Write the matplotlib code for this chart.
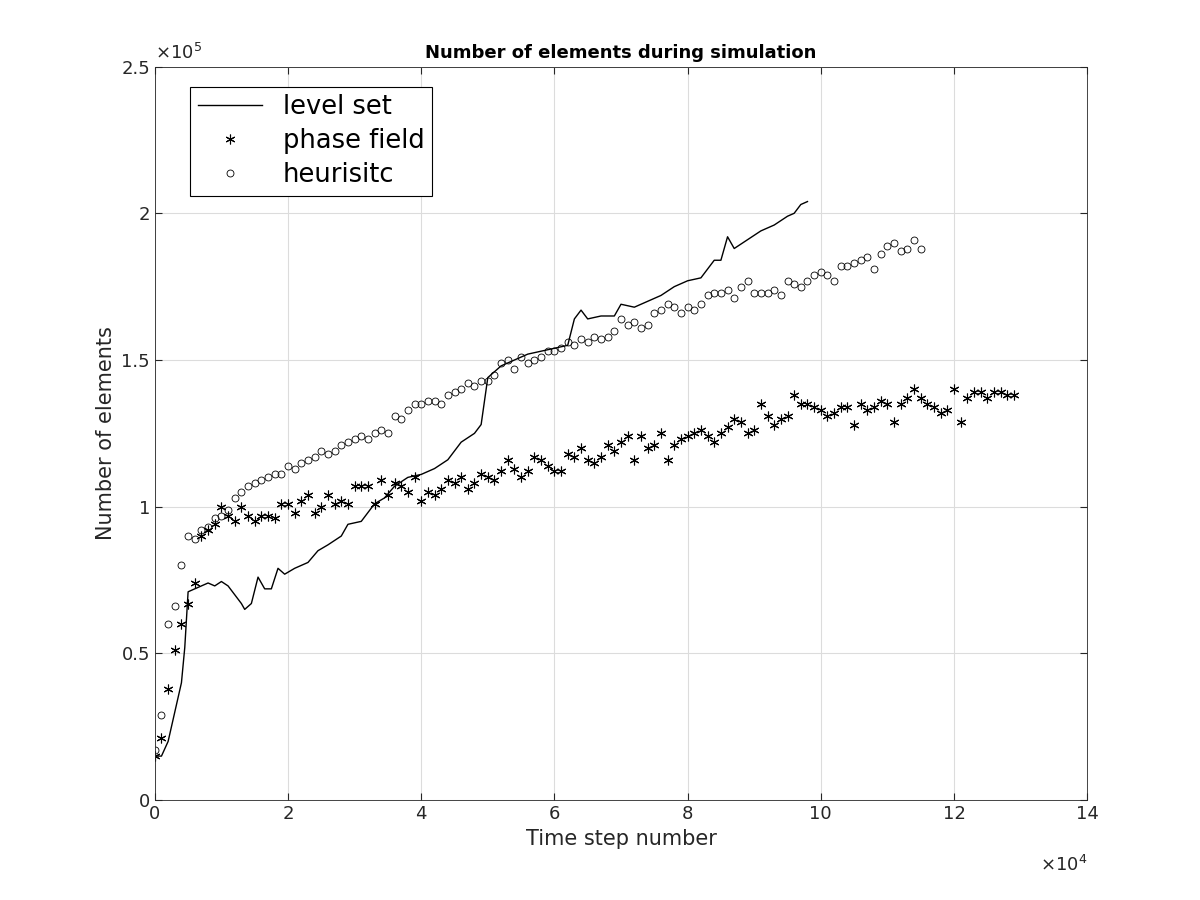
import numpy as np
import matplotlib
matplotlib.use("Agg")
import matplotlib.pyplot as plt

# level set (x in 1e4, y in 1e5)
ls_x = [0,0.1,0.2,0.3,0.4,0.45,0.5,0.6,0.8,0.9,1.0,1.1,1.2,1.3,1.35,1.45,1.55,1.65,1.75,1.85,1.95,2.1,2.3,2.45,2.6,2.8,2.9,3.1,3.3,3.45,3.6,3.8,4.0,4.2,4.4,4.6,4.8,4.9,5.0,5.2,5.4,5.6,5.8,6.0,6.2,6.3,6.4,6.5,6.7,6.9,7.0,7.2,7.4,7.6,7.8,8.0,8.2,8.4,8.5,8.6,8.7,8.9,9.1,9.3,9.5,9.6,9.7,9.8]
ls_y = [0.15,0.15,0.2,0.3,0.4,0.52,0.71,0.72,0.74,0.73,0.745,0.73,0.70,0.67,0.65,0.67,0.76,0.72,0.72,0.79,0.77,0.79,0.81,0.85,0.87,0.90,0.94,0.95,1.01,1.03,1.07,1.10,1.11,1.13,1.16,1.22,1.25,1.28,1.44,1.48,1.50,1.52,1.53,1.54,1.55,1.64,1.67,1.64,1.65,1.65,1.69,1.68,1.70,1.72,1.75,1.77,1.78,1.84,1.84,1.92,1.88,1.91,1.94,1.96,1.99,2.00,2.03,2.04]

pf_y = [0.15,0.21,0.38,0.51,0.60,0.67,0.74,0.90,0.92,0.94,
        1.00,0.97,0.95,1.00,0.97,0.95,0.97,0.97,0.96,1.01,
        1.01,0.98,1.02,1.04,0.98,1.00,1.04,1.01,1.02,1.01,
        1.07,1.07,1.07,1.01,1.09,1.04,1.08,1.07,1.05,1.10,
        1.02,1.05,1.04,1.06,1.09,1.08,1.10,1.06,1.08,1.11,
        1.10,1.09,1.12,1.16,1.13,1.10,1.12,1.17,1.16,1.14,
        1.12,1.12,1.18,1.17,1.20,1.16,1.15,1.17,1.21,1.19,
        1.22,1.24,1.16,1.24,1.20,1.21,1.25,1.16,1.21,1.23,
        1.24,1.25,1.26,1.24,1.22,1.25,1.27,1.30,1.29,1.25,
        1.26,1.35,1.31,1.28,1.30,1.31,1.38,1.35,1.35,1.34,
        1.33,1.31,1.32,1.34,1.34,1.28,1.35,1.33,1.34,1.36,
        1.35,1.29,1.35,1.37,1.40,1.37,1.35,1.34,1.32,1.33,
        1.40,1.29,1.37,1.39,1.39,1.37,1.39,1.39,1.38,1.38]
pf_x = np.arange(len(pf_y)) * 0.1

he_y = [0.17,0.29,0.60,0.66,0.80,0.90,0.89,0.92,0.93,0.96,
        0.97,0.99,1.03,1.05,1.07,1.08,1.09,1.10,1.11,1.11,
        1.14,1.13,1.15,1.16,1.17,1.19,1.18,1.19,1.21,1.22,
        1.23,1.24,1.23,1.25,1.26,1.25,1.31,1.30,1.33,1.35,
        1.35,1.36,1.36,1.35,1.38,1.39,1.40,1.42,1.41,1.43,
        1.43,1.45,1.49,1.50,1.47,1.51,1.49,1.50,1.51,1.53,
        1.53,1.54,1.56,1.55,1.57,1.56,1.58,1.57,1.58,1.60,
        1.64,1.62,1.63,1.61,1.62,1.66,1.67,1.69,1.68,1.66,
        1.68,1.67,1.69,1.72,1.73,1.73,1.74,1.71,1.75,1.77,
        1.73,1.73,1.73,1.74,1.72,1.77,1.76,1.75,1.77,1.79,
        1.80,1.79,1.77,1.82,1.82,1.83,1.84,1.85,1.81,1.86,
        1.89,1.90,1.87,1.88,1.91,1.88]
he_x = np.arange(len(he_y)) * 0.1

fig = plt.figure(figsize=(12, 9), dpi=100)
ax = fig.add_axes([0.129, 0.111, 0.777, 0.815])
ax.plot(np.array(ls_x)*1e4, np.array(ls_y)*1e5, 'k-', lw=1, label='level set')
ax.plot(pf_x*1e4, np.array(pf_y)*1e5, color='k', marker=(6, 2, 0), ms=7, mew=0.8, linestyle='none', label='phase field')
ax.plot(he_x*1e4, np.array(he_y)*1e5, 'o', mfc='none', mec='k', ms=5, mew=0.6, linestyle='none', label='heurisitc')
ax.set_xlim(0, 14e4); ax.set_ylim(0, 2.5e5)
ax.set_xticks(np.arange(0, 15, 2)*1e4)
ax.set_xticklabels([str(v) for v in range(0, 15, 2)])
ax.set_yticks(np.arange(0, 2.6, 0.5)*1e5)
ax.set_yticklabels(['0','0.5','1','1.5','2','2.5'])
ax.grid(True, color='#dcdcdc', lw=0.8)
ax.set_axisbelow(True)
ax.tick_params(direction='in', labelsize=13, top=True, right=True, length=5, colors='#262626')
for s in ax.spines.values():
    s.set_linewidth(0.6); s.set_color('#262626')
ax.set_xlabel('Time step number', fontsize=15, color='#262626')
ax.set_ylabel('Number of elements', fontsize=15, color='#262626')
ax.set_title('Number of elements during simulation', fontsize=13, fontweight='bold')
ax.text(0, 1.005, r'$\times10^5$', transform=ax.transAxes, fontsize=13, va='bottom', ha='left', color='#262626')
ax.text(1.0, -0.075, r'$\times10^4$', transform=ax.transAxes, fontsize=13, va='top', ha='right', color='#262626')
leg = ax.legend(loc='upper left', fontsize=18.5, fancybox=False, edgecolor='k', framealpha=1,
                bbox_to_anchor=(0.024, 0.99), handlelength=2.5, borderpad=0.3, labelspacing=0.3)
leg.get_frame().set_linewidth(0.8)
fig.savefig('out.png')
